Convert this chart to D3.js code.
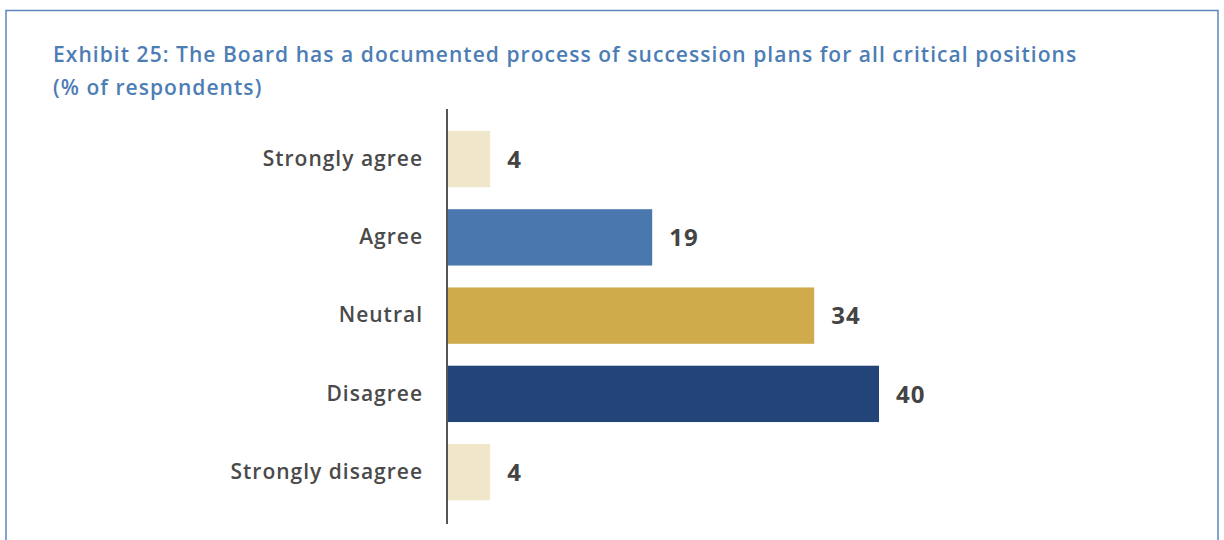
<!DOCTYPE html>
<html>
<head>
<meta charset="utf-8">
<script src="https://cdn.jsdelivr.net/npm/d3@7/dist/d3.min.js"></script>
<style>
  html, body { margin: 0; padding: 0; background: #fff; }
  svg { display: block; }
</style>
</head>
<body>
<svg id="chart" width="1224" height="540"></svg>
<script>
// Survey responses, % of respondents
const categories = ["Strongly agree", "Agree", "Neutral", "Disagree", "Strongly disagree"];
const values = [4, 19, 34, 40, 4];
const barColors = ["#F0E6CA", "#4A78AE", "#CFAB4C", "#224478", "#F0E6CA"];
const titleLines = [
  "Exhibit 25: The Board has a documented process of succession plans for all critical positions",
  "(% of respondents)"
];

const svg = d3.select("#chart");
const font = "'Open Sans', 'DejaVu Sans', sans-serif";

// Frame around the exhibit
svg.append("rect")
  .attr("x", 6).attr("y", 10.5)
  .attr("width", 1212).attr("height", 560)
  .attr("fill", "none")
  .attr("stroke", "#5B86BE")
  .attr("stroke-width", 1.5);

// Title
svg.append("g").selectAll("text")
  .data(titleLines)
  .join("text")
  .attr("x", 53)
  .attr("y", (d, i) => 62 + i * 33)
  .attr("fill", "#4D7DB5")
  .attr("font-family", font)
  .attr("font-weight", 600)
  .attr("font-size", 21)
  .attr("letter-spacing", 1.05)
  .text(d => d);

const x0 = 447;
const x = d3.scaleLinear().domain([0, 40]).range([x0, x0 + 432]);
const y = d3.scaleBand()
  .domain(categories)
  .range([120, 511.25])
  .paddingInner(0.28)
  .paddingOuter(0.14);

// Bars
svg.append("g").selectAll("rect")
  .data(categories)
  .join("rect")
  .attr("x", x(0))
  .attr("y", d => y(d))
  .attr("width", (d, i) => x(values[i]) - x(0))
  .attr("height", y.bandwidth())
  .attr("fill", (d, i) => barColors[i]);

// Category axis
const axis = d3.axisLeft(y).tickSize(0).tickPadding(24);
const gAxis = svg.append("g")
  .attr("transform", `translate(${x0},0)`)
  .call(axis);
gAxis.select(".domain").remove();
gAxis.selectAll("text")
  .attr("font-family", font)
  .attr("font-weight", 600)
  .attr("font-size", 21)
  .attr("letter-spacing", 1)
  .attr("fill", "#4A4A4A");

svg.append("line")
  .attr("x1", x0).attr("x2", x0)
  .attr("y1", 109).attr("y2", 524)
  .attr("stroke", "#555")
  .attr("stroke-width", 2);

// Value labels
svg.append("g").selectAll("text")
  .data(categories)
  .join("text")
  .attr("x", (d, i) => x(values[i]) + 17)
  .attr("y", d => y(d) + y.bandwidth() / 2)
  .attr("dy", "0.36em")
  .attr("font-family", font)
  .attr("font-weight", 700)
  .attr("font-size", 24)
  .attr("letter-spacing", 1)
  .attr("fill", "#444")
  .text((d, i) => values[i]);
</script>
</body>
</html>
